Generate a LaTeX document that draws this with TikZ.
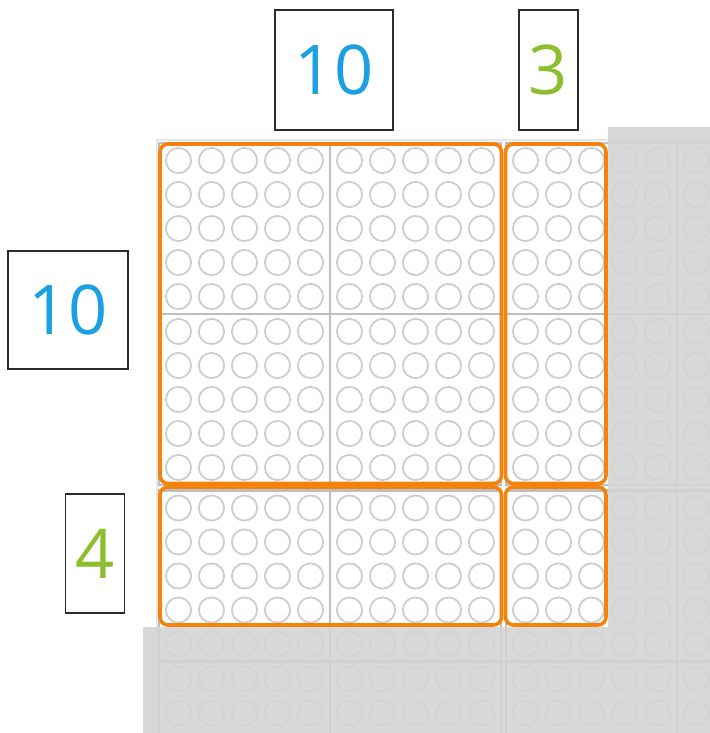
\documentclass[tikz,border=0pt]{standalone}
\usepackage{fontspec}
\setmainfont{Open Sans}
\usepackage{xcolor}
\usepackage{tikz}
\usetikzlibrary{positioning}
\definecolor{numblue}{HTML}{1BA1E2}
\definecolor{numgreen}{HTML}{8DBE2D}
\definecolor{pieceorange}{HTML}{F5820A}
\definecolor{studgray}{HTML}{CDCDCD}
\definecolor{platerule}{HTML}{BEBEBE}
\definecolor{boardframe}{HTML}{E6E6E6}
\definecolor{coverfill}{HTML}{D4D4D4}
\definecolor{labelborder}{HTML}{2B2B2B}

\begin{document}
\begin{tikzpicture}[x=0.5pt,y=-0.5pt]
\tikzstyle{numbox}=[draw=labelborder,line width=0.8pt,inner sep=0pt,font=\fontsize{34.3pt}{40pt}\selectfont]
\tikzstyle{piece}=[draw=pieceorange,line width=1.8pt,rounded corners=4pt]
\tikzstyle{stud}=[draw=studgray,line width=0.9pt]
\tikzstyle{platerim}=[draw=platerule,line width=1.1pt]
\newcommand{\studplate}[2]{%
\draw[platerim] (#1,#2) rectangle ++(171,171);
\foreach \i in {0,...,4}
  \foreach \j in {0,...,4}
    \draw[stud] ({#1+19.5+33*\i},{#2+17.5+34*\j}) circle (12.6);
}
\useasboundingbox (0,0) rectangle (710,733);
% base board, partly covered
\begin{scope}
\clip (0,0) rectangle (710,733);
\draw[boardframe,line width=1.1pt] (157,140) rectangle (760,780);
\foreach \px in {159,330,506,677}
  \foreach \py in {143,314,490.5,661.5}
    \studplate{\px}{\py};
\fill[coverfill,opacity=0.9] (608,127) -- (710,127) -- (710,733) -- (143,733) -- (143,627) -- (608,627) -- cycle;
\end{scope}
% the four pieces
\draw[piece] (160,144) rectangle (501.5,483.5);
\draw[piece] (505.5,144) rectangle (606,483.5);
\draw[piece] (160,487) rectangle (501.5,625);
\draw[piece] (505.5,487) rectangle (606,625);
% factor labels
\node[numbox,minimum width=59pt,minimum height=60pt,text=numblue] (tenstop) at (334,70) {10};
\node[numbox,minimum width=29.5pt,minimum height=60pt,text=numgreen] (threetop) at (548.5,70) {3};
\node[numbox,minimum width=60pt,minimum height=59pt,text=numblue] (tensleft) at (68,310) {10};
\node[numbox,minimum width=29.5pt,minimum height=59.5pt,text=numgreen] (fourleft) at (95,553.5) {4};
\end{tikzpicture}
\end{document}
